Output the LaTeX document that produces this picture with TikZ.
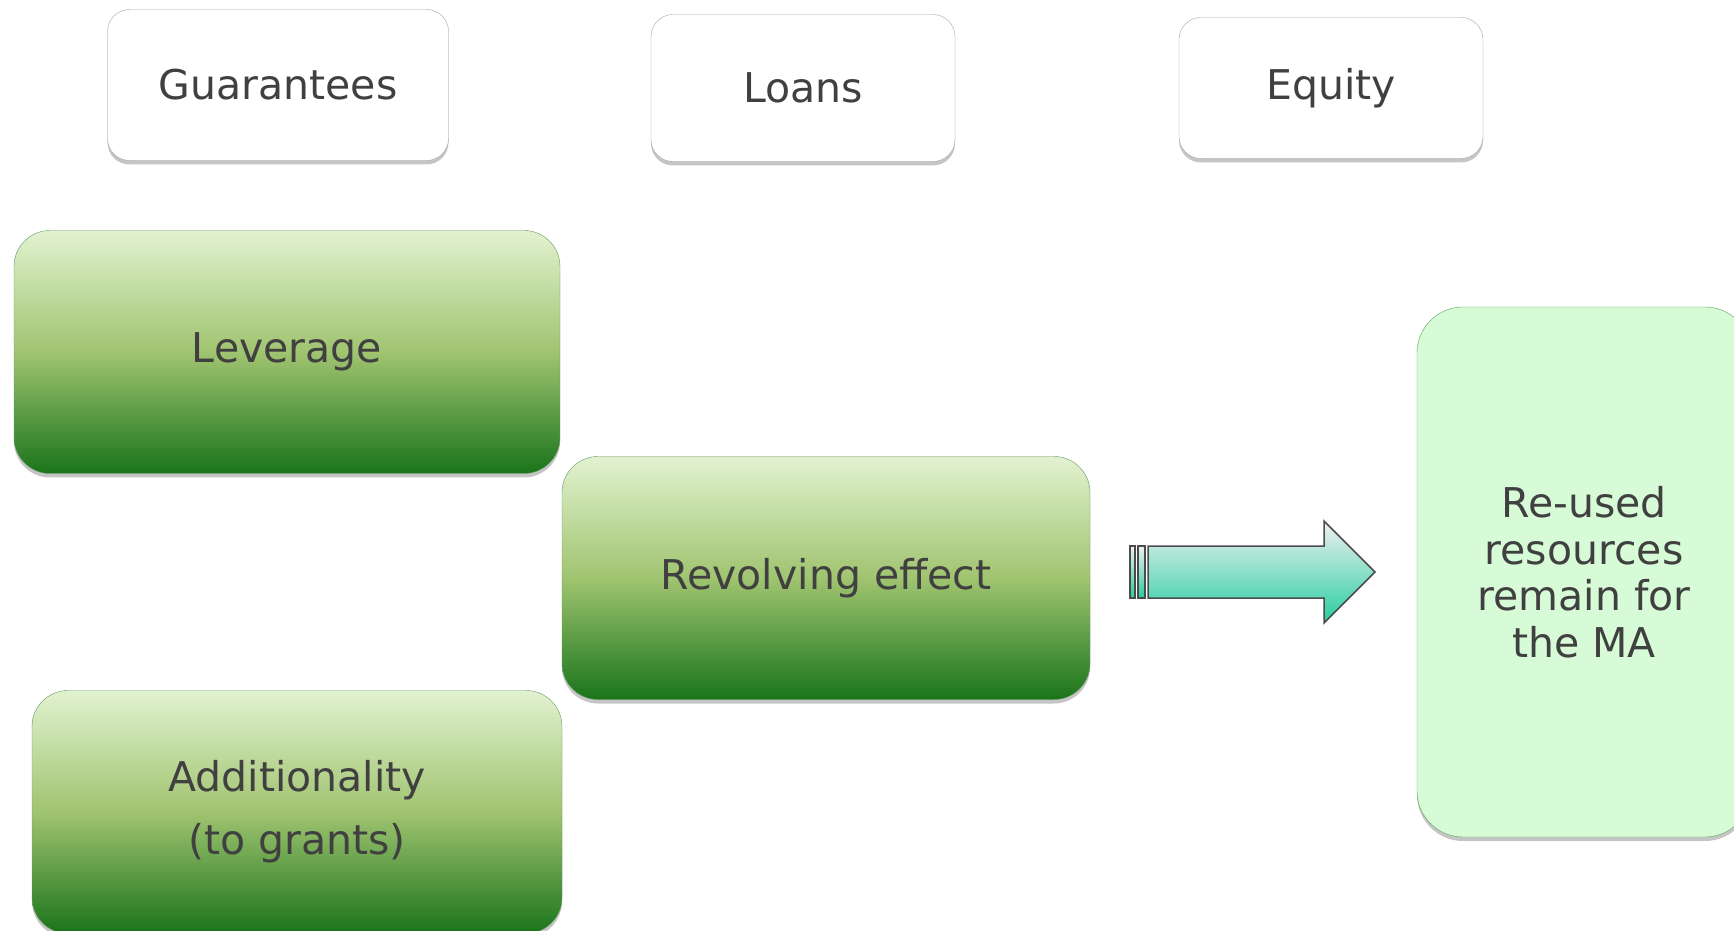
\documentclass[tikz,border=0pt]{standalone}
\usepackage{fontspec}
\setmainfont{DejaVu Sans}
\usetikzlibrary{positioning, shadows}
\definecolor{txtgray}{RGB}{64,64,64}
\definecolor{leaftop}{RGB}{226,242,208}
\definecolor{leafmid}{RGB}{160,196,112}
\definecolor{leafbot}{RGB}{26,116,26}
\definecolor{mintfill}{RGB}{214,251,214}
\definecolor{tealbot}{RGB}{38,206,160}

\tikzset{
  instrbox/.style={draw=gray!70, fill=white, rounded corners=22pt,
    minimum width=304pt, minimum height=147pt, text=txtgray,
    font=\fontsize{41}{49}\selectfont,
    drop shadow={shadow xshift=0pt, shadow yshift=-4pt, opacity=0.45}},
  effectbox/.style={draw=gray!80!green, top color=leaftop, bottom color=leafbot,
    middle color=leafmid, rounded corners=36pt, minimum width=530pt,
    minimum height=243pt, text=txtgray, align=center,
    font=\fontsize{41}{49}\selectfont,
    drop shadow={shadow xshift=0pt, shadow yshift=-4pt, opacity=0.45}},
  resultbox/.style={draw=gray!70!green, fill=mintfill, rounded corners=46pt,
    minimum width=334pt, minimum height=530pt, text=txtgray, align=center,
    font=\fontsize{41}{46.5}\selectfont,
    drop shadow={shadow xshift=0pt, shadow yshift=-4pt, opacity=0.45}},
  flowarrow/.style={draw=black!70, line width=1.5pt, top color=gray!12, bottom color=tealbot}
}

\begin{document}
\begin{tikzpicture}[x=1pt, y=1pt]
  \useasboundingbox[fill=white] (0,0) rectangle (1734,930);

  % financial instruments
  \node[instrbox, minimum width=341pt, minimum height=151pt] (guar) at (278,845) {Guarantees};
  \node[instrbox] (loans) at (803,842) {Loans};
  \node[instrbox, minimum height=141pt] (equity) at (1331,842) {Equity};

  % effects
  \node[effectbox, minimum width=546pt] (lever) at (287,578) {Leverage};
  \node[effectbox, minimum width=528pt] (revolv) at (826,352) {Revolving effect};
  \node[effectbox] (addit) at (297,118) {Additionality\\[14pt](to grants)};

  \node[resultbox] (reused) at (1584,358) {Re-used\\resources\\remain for\\the MA};

  % block arrow
  \coordinate (tail) at (1148,358);
  \draw[flowarrow] (1130,332) rectangle (1135,384);
  \draw[flowarrow] (1138,332) rectangle (1145,384);
  \draw[flowarrow] (tail) ++(0,26) -- ++(176,0) -- ++(0,25) -- (1375,358)
    -- (1324,307) -- ++(0,25) -- (1148,332) -- cycle;
\end{tikzpicture}
\end{document}
